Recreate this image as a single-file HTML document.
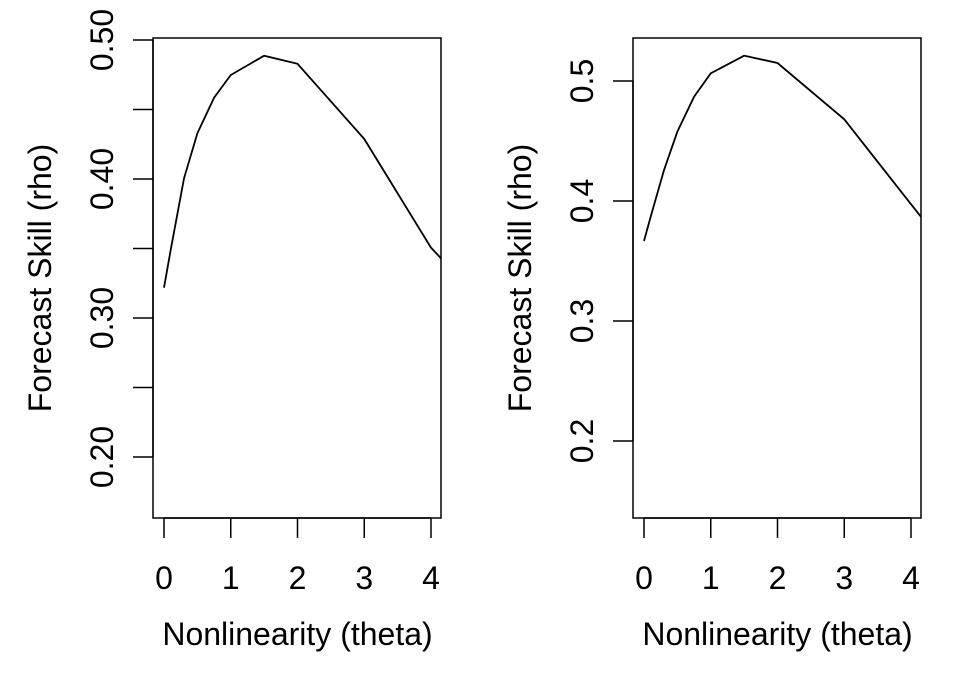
<!DOCTYPE html>
<html><head><meta charset="utf-8"><style>
body{margin:0;background:#fff}
svg text{font-family:"Liberation Sans",Arial,sans-serif;font-size:32px;fill:#000}
</style></head><body>
<svg id="c" width="960" height="672" viewBox="0 0 960 672" xmlns="http://www.w3.org/2000/svg"></svg>
<script>
const theta = [0, 0.1, 0.3, 0.5, 0.75, 1, 1.5, 2, 3, 4, 5];
const rhoLeft = [0.3218, 0.3489, 0.4005, 0.4329, 0.4585, 0.4748, 0.4887, 0.4829, 0.4288, 0.3506, 0.2993];
const rhoRight = [0.3667, 0.3869, 0.4258, 0.4578, 0.4869, 0.5064, 0.5211, 0.515, 0.4681, 0.3973, 0.3275];
const xTicks = [0, 1, 2, 3, 4];
const yTicksLeft = [0.20, 0.25, 0.30, 0.35, 0.40, 0.45, 0.50];
const yLabelsLeft = ["0.20", "", "0.30", "", "0.40", "", "0.50"];
const yTicksRight = [0.2, 0.3, 0.4, 0.5];
const yLabelsRight = ["0.2", "0.3", "0.4", "0.5"];

const NS = "http://www.w3.org/2000/svg";
const svg = document.getElementById('c');
function mk(tag, attrs, parent){const e=document.createElementNS(NS,tag);for(const k in attrs)e.setAttribute(k,attrs[k]);(parent||svg).appendChild(e);return e;}

function panel(name, x0, y0ref, yref, yScaleVal, ys, yt, yl){
  const g = mk('g',{});
  
  
  const bx = x0-11, bw = 288, by = 38, bh = 480;
  const X = t => x0 + t*66.75;
  const Y = v => y0ref + (yref - v)*yScaleVal;
  const clip = mk('clipPath',{id:name+'-clip'},g);
  mk('rect',{x:bx,y:by,width:bw,height:bh},clip);
  const box = mk('rect',{x:bx,y:by,width:bw,height:bh,fill:'none',stroke:'#000','stroke-width':1.5},g);
  
  
  const line = mk('polyline',{points:theta.map((t,i)=>X(t)+','+Y(ys[i])).join(' '),fill:'none',stroke:'#000','stroke-width':1.8,'clip-path':'url(#'+name+'-clip)'},g);
  
  
  const xa = mk('g',{},g);
  
  
  mk('line',{x1:X(xTicks[0]),x2:X(xTicks[xTicks.length-1]),y1:518,y2:518,stroke:'#000','stroke-width':1.5},xa);
  xTicks.forEach(t=>{
    mk('line',{x1:X(t),x2:X(t),y1:518,y2:538,stroke:'#000','stroke-width':1.5},xa);
    const tx = mk('text',{x:X(t),y:589,'text-anchor':'middle'},xa);
    tx.textContent = t;
    
    
  });
  const xt = mk('text',{x:X(2),y:645,'text-anchor':'middle'},g);
  xt.textContent = 'Nonlinearity (theta)';
  
  
  const ya = mk('g',{},g);
  
  
  mk('line',{x1:bx,x2:bx,y1:Y(yt[0]),y2:Y(yt[yt.length-1]),stroke:'#000','stroke-width':1.5},ya);
  yt.forEach((v,i)=>{
    mk('line',{x1:bx-20,x2:bx,y1:Y(v),y2:Y(v),stroke:'#000','stroke-width':1.5},ya);
    if(yl[i]){
      const tx = mk('text',{x:0,y:0,'text-anchor':'middle',transform:'translate('+(bx-40)+','+Y(v)+') rotate(-90)'},ya);
      tx.textContent = yl[i];
      
      
    }
  });
  const yt2 = mk('text',{x:0,y:0,'text-anchor':'middle',transform:'translate('+(bx-102)+',278) rotate(-90)'},g);
  yt2.textContent = 'Forecast Skill (rho)';
  
  
}
panel('left-panel', 164, 40, 0.50, 1390, rhoLeft, yTicksLeft, yLabelsLeft);
panel('right-panel', 644, 81, 0.5, 1200, rhoRight, yTicksRight, yLabelsRight);
</script>
</body></html>
